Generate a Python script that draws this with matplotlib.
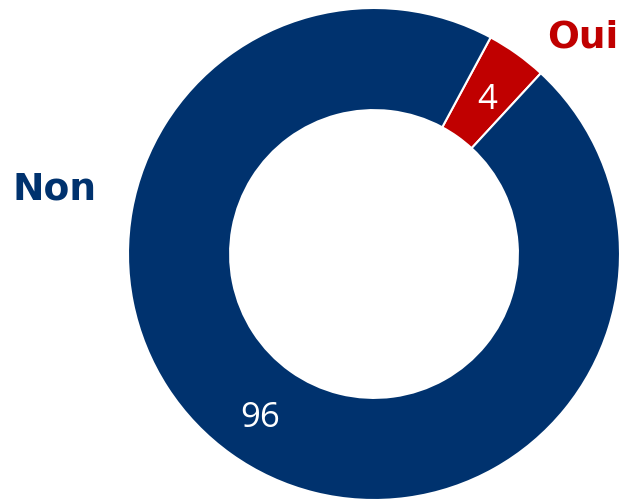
import numpy as np
import matplotlib.pyplot as plt
from matplotlib.transforms import offset_copy

# --- data ---
labels = ['Oui', 'Non']
values = [4, 96]
colors = ['#C00000', '#00326E']

fig = plt.figure(figsize=(6.2, 5.0), dpi=100)
ax = fig.add_axes([0, 0, 1, 1])

wedges, _, autotexts = ax.pie(
    values, colors=colors, startangle=61.7, counterclock=False,
    radius=1.0, autopct=lambda p: f'{p:.0f}', pctdistance=0.795,
    wedgeprops=dict(width=0.415, edgecolor='white', linewidth=1.5),
    textprops=dict(color='white', fontsize=25, family='Open Sans'),
)

# donut centre at pixel (374, 254), outer radius 246 px
cx, cy, r_px = 374, 254, 246
ax.set_aspect('auto')
ax.set_xlim(-cx / r_px, (620 - cx) / r_px)
ax.set_ylim(-(500 - cy) / r_px, cy / r_px)
ax.axis('off')

# nudge value labels down a few pixels
for t in autotexts:
    t.set_transform(offset_copy(ax.transData, fig=fig, x=0, y=-5, units='dots'))

# category labels
ax.text((583 - cx) / r_px, (cy - 38) / r_px, labels[0], color=colors[0],
        fontsize=27, fontweight='bold', family='DejaVu Sans', ha='center', va='center')
ax.text((55 - cx) / r_px, (cy - 190) / r_px, labels[1], color=colors[1],
        fontsize=27, fontweight='bold', family='DejaVu Sans', ha='center', va='center')

fig.savefig('out.png', dpi=100)
